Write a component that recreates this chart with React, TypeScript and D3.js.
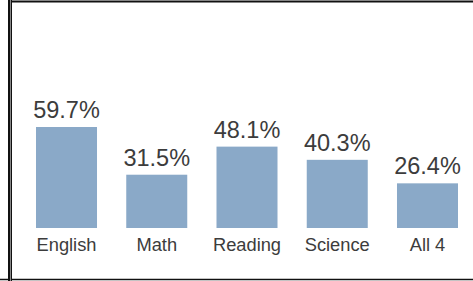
import { useEffect, useRef } from "react"
import * as d3 from "d3"

const categories = ["English", "Math", "Reading", "Science", "All 4"]
const percents = [59.7, 31.5, 48.1, 40.3, 26.4]

const W = 473
const H = 281

export default function App() {
  const svgRef = useRef<SVGSVGElement>(null)

  useEffect(() => {
    if (!svgRef.current) return
    const svg = d3.select(svgRef.current)
    svg.selectAll("*").remove()

    const data = categories.map((name, i) => ({ name, value: percents[i] }))

    const x = d3.scaleBand().domain(categories).range([36, 458]).paddingInner(0.324).paddingOuter(0)
    const y = d3.scaleLinear().domain([0, 60]).range([228, 126.5])

    // cell borders
    svg.append("rect").attr("x", 0).attr("y", 0).attr("width", W).attr("height", H).attr("fill", "#fff")
    svg.append("line").attr("x1", 8).attr("x2", W).attr("y1", 1.5).attr("y2", 1.5).attr("stroke", "#111").attr("stroke-width", 2)
    svg.append("line").attr("x1", 0).attr("x2", W).attr("y1", 279.5).attr("y2", 279.5).attr("stroke", "#111").attr("stroke-width", 1.5)
    svg.append("line").attr("x1", 9).attr("x2", 9).attr("y1", 0).attr("y2", H).attr("stroke", "#111").attr("stroke-width", 2)
    svg.append("line").attr("x1", 10.5).attr("x2", 10.5).attr("y1", 0).attr("y2", H).attr("stroke", "#888").attr("stroke-width", 1)
    svg.append("line").attr("x1", 11.5).attr("x2", 11.5).attr("y1", 0).attr("y2", H).attr("stroke", "#111").attr("stroke-width", 1)

    const g = svg.append("g")

    g.selectAll("rect.bar")
      .data(data)
      .enter()
      .append("rect")
      .attr("class", "bar")
      .attr("x", (d) => x(d.name)!)
      .attr("width", x.bandwidth())
      .attr("y", (d) => y(d.value))
      .attr("height", (d) => y(0) - y(d.value))
      .attr("fill", "#8aa9c8")

    // value labels
    g.selectAll("text.val")
      .data(data)
      .enter()
      .append("text")
      .attr("class", "val")
      .attr("x", (d) => x(d.name)! + x.bandwidth() / 2)
      .attr("y", (d) => y(d.value) - 9)
      .attr("text-anchor", "middle")
      .attr("font-family", "'Liberation Sans', Arial, sans-serif")
      .attr("font-size", 23.5)
      .attr("fill", "#3c3c3c")
      .text((d) => `${d.value.toFixed(1)}%`)

    // category labels
    g.selectAll("text.cat")
      .data(data)
      .enter()
      .append("text")
      .attr("class", "cat")
      .attr("x", (d) => x(d.name)! + x.bandwidth() / 2)
      .attr("y", 250.5)
      .attr("text-anchor", "middle")
      .attr("font-family", "'Liberation Sans', Arial, sans-serif")
      .attr("font-size", 18.3)
      .attr("fill", "#3c3c3c")
      .text((d) => d.name)
  }, [])

  return (
    <svg
      ref={svgRef}
      width={W}
      height={H}
      style={{ position: "absolute", left: 0, top: 0, display: "block" }}
    />
  )
}
